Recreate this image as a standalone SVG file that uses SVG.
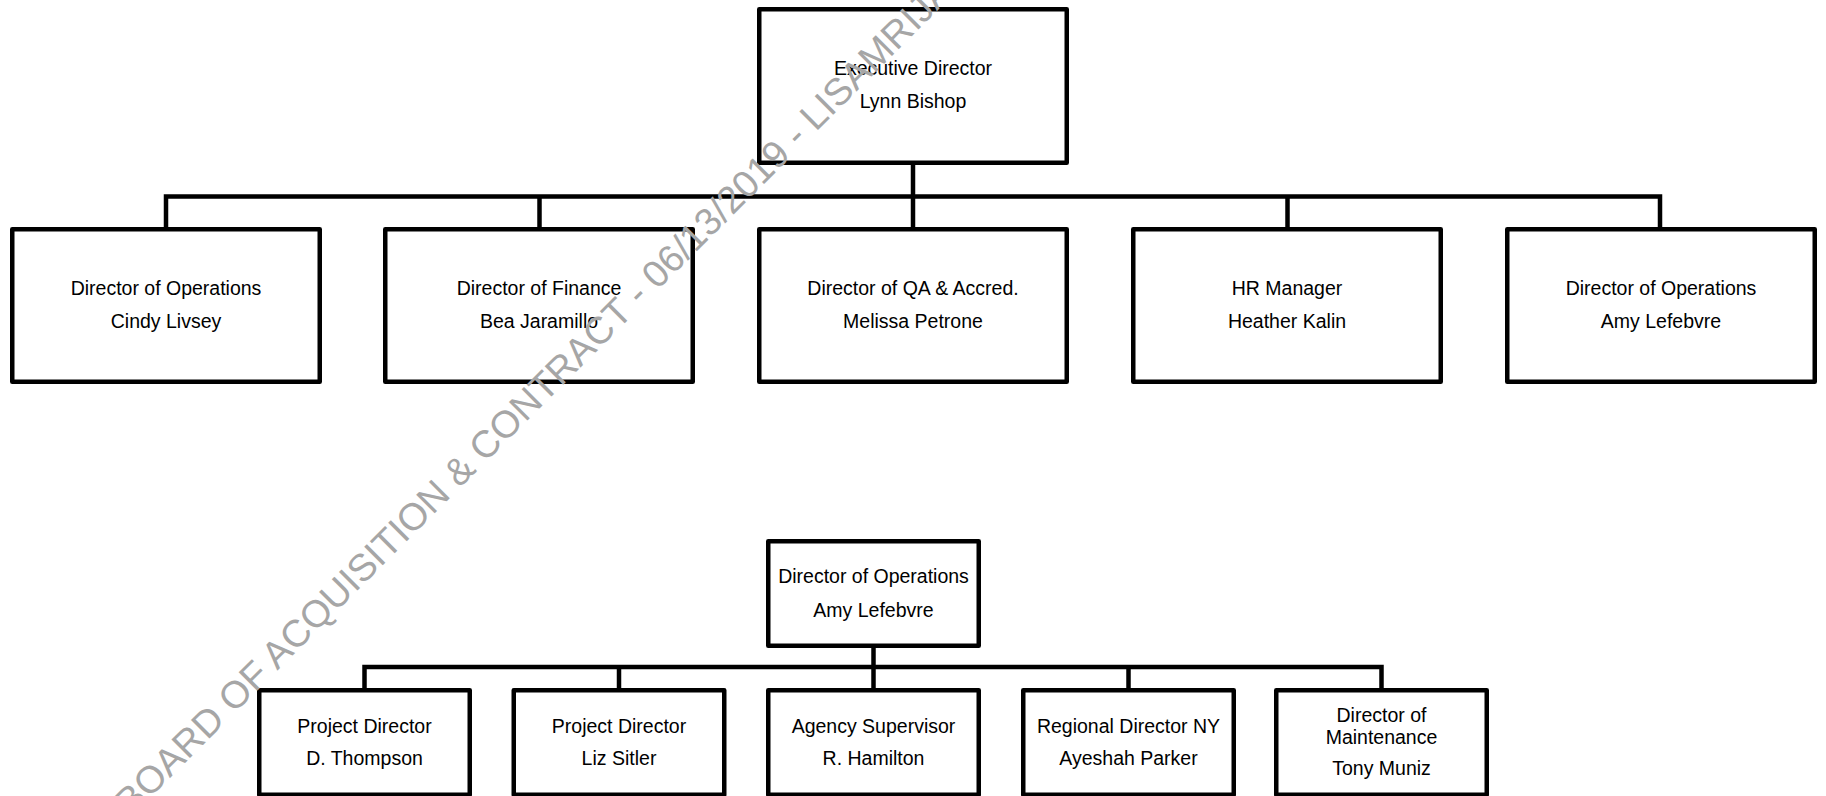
<svg xmlns="http://www.w3.org/2000/svg" width="1826" height="796" viewBox="0 0 1826 796">
<style>
.box{fill:#fff;stroke:#000;stroke-width:4.5;stroke-linejoin:round}
.ln{fill:none;stroke:#000;stroke-width:4.5;stroke-linejoin:miter;stroke-linecap:butt}
.t{font-family:"Liberation Sans",Arial,sans-serif;font-size:19.5px;fill:#000;text-anchor:middle}
.wm{font-family:"Liberation Sans",Arial,sans-serif;font-size:38px;fill:#a6a6a6}
</style>
<rect width="1826" height="796" fill="#fff"/>
<g id="connectors">
  <path class="ln" d="M913,165 V196.5"/>
  <path class="ln" d="M166,229 V196.5 H1660 V229"/>
  <path class="ln" d="M539.5,196.5 V229"/>
  <path class="ln" d="M913,196.5 V229"/>
  <path class="ln" d="M1287.5,196.5 V229"/>
  <path class="ln" d="M873.5,648 V690"/>
  <path class="ln" d="M364.5,690 V667 H1381.5 V690"/>
  <path class="ln" d="M619,667 V690"/>
  <path class="ln" d="M1128.5,667 V690"/>
</g>
<g id="exec">
  <rect class="box" x="759.25" y="9.25" width="307.5" height="153.5"/>
  <text class="t" x="913" y="75">Executive Director</text>
  <text class="t" x="913" y="108">Lynn Bishop</text>
</g>
<g id="ops-cindy">
  <rect class="box" x="12.25" y="229.25" width="307.5" height="152.5"/>
  <text class="t" x="166" y="295">Director of Operations</text>
  <text class="t" x="166" y="328">Cindy Livsey</text>
</g>
<g id="finance">
  <rect class="box" x="385.25" y="229.25" width="307.5" height="152.5"/>
  <text class="t" x="539" y="295">Director of Finance</text>
  <text class="t" x="539" y="328">Bea Jaramillo</text>
</g>
<g id="qa">
  <rect class="box" x="759.25" y="229.25" width="307.5" height="152.5"/>
  <text class="t" x="913" y="295">Director of QA &amp; Accred.</text>
  <text class="t" x="913" y="328">Melissa Petrone</text>
</g>
<g id="hr">
  <rect class="box" x="1133.25" y="229.25" width="307.5" height="152.5"/>
  <text class="t" x="1287" y="295">HR Manager</text>
  <text class="t" x="1287" y="328">Heather Kalin</text>
</g>
<g id="ops-amy">
  <rect class="box" x="1507.25" y="229.25" width="307.5" height="152.5"/>
  <text class="t" x="1661" y="295">Director of Operations</text>
  <text class="t" x="1661" y="328">Amy Lefebvre</text>
</g>
<g id="ops-amy-2">
  <rect class="box" x="768.25" y="541.25" width="210.5" height="104.5"/>
  <text class="t" x="873.5" y="583">Director of Operations</text>
  <text class="t" x="873.5" y="617">Amy Lefebvre</text>
</g>
<g id="pd-thompson">
  <rect class="box" x="259.25" y="690.25" width="210.5" height="104.5"/>
  <text class="t" x="364.5" y="733">Project Director</text>
  <text class="t" x="364.5" y="765">D. Thompson</text>
</g>
<g id="pd-sitler">
  <rect class="box" x="513.75" y="690.25" width="210.5" height="104.5"/>
  <text class="t" x="619" y="733">Project Director</text>
  <text class="t" x="619" y="765">Liz Sitler</text>
</g>
<g id="agency">
  <rect class="box" x="768.25" y="690.25" width="210.5" height="104.5"/>
  <text class="t" x="873.5" y="733">Agency Supervisor</text>
  <text class="t" x="873.5" y="765">R. Hamilton</text>
</g>
<g id="regional">
  <rect class="box" x="1023.25" y="690.25" width="210.5" height="104.5"/>
  <text class="t" x="1128.5" y="733">Regional Director NY</text>
  <text class="t" x="1128.5" y="765">Ayeshah Parker</text>
</g>
<g id="maintenance">
  <rect class="box" x="1276.25" y="690.25" width="210.5" height="104.5"/>
  <text class="t" x="1381.5" y="722">Director of</text>
  <text class="t" x="1381.5" y="744">Maintenance</text>
  <text class="t" x="1381.5" y="775">Tony Muniz</text>
</g>
<text class="wm" x="131" y="817" transform="rotate(-45 131 817)">BOARD OF ACQUISITION &amp; CONTRACT - 06/13/2019 - LISAMRIJA</text>
</svg>
